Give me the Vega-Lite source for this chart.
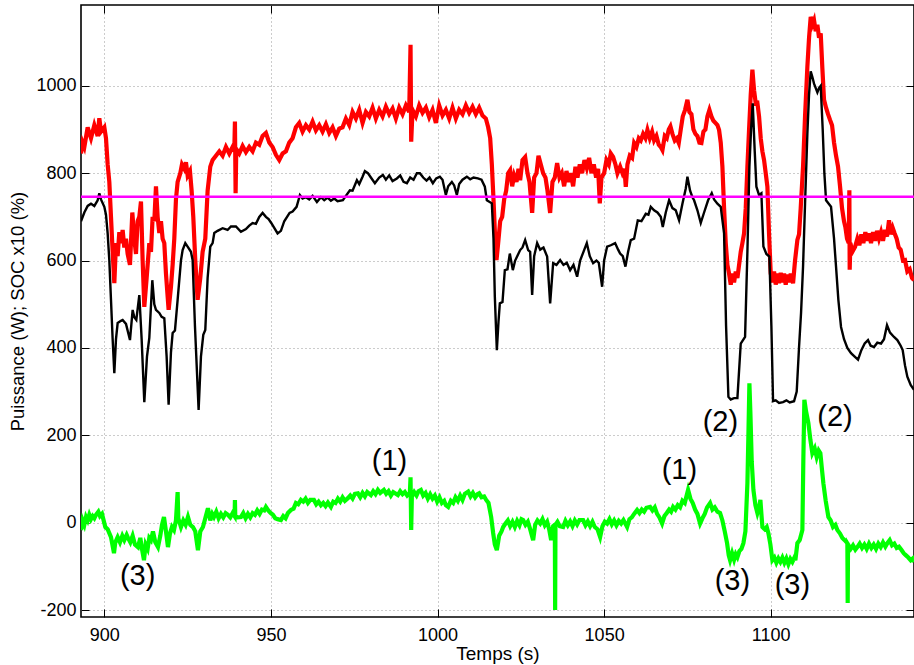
{
"$schema":"https://vega.github.io/schema/vega-lite/v6.json",
"width":833,"height":612,"autosize":"none",
"padding":{"left":81,"top":5,"right":0,"bottom":48},
"background":"white",
"config":{"view":{"stroke":"black","strokeWidth":1.6},"font":"Liberation Sans"},
"datasets":{
"red":[
{"t":893,"v":845},{"t":893.5,"v":870},{"t":894,"v":860},{"t":895,"v":905},{"t":896,"v":880},{"t":897,"v":910},{"t":898,"v":885},{"t":898.5,"v":926},{"t":899,"v":895},{"t":900,"v":905},{"t":900.5,"v":880},{"t":901,"v":820},{"t":901.5,"v":780},{"t":902,"v":700},{"t":902.5,"v":620},{"t":903,"v":548},{"t":903.5,"v":640},{"t":904,"v":610},{"t":904.5,"v":665},{"t":905,"v":640},{"t":905.5,"v":670},{"t":906,"v":630},{"t":906.5,"v":650},{"t":907,"v":615},{"t":907.7,"v":590},{"t":908.4,"v":710},{"t":909,"v":650},{"t":909.5,"v":615},{"t":910,"v":690},{"t":910.5,"v":700},{"t":911,"v":735},{"t":911.5,"v":600},{"t":912,"v":494},{"t":912.7,"v":560},{"t":913.5,"v":640},{"t":914,"v":620},{"t":914.5,"v":700},{"t":915,"v":690},{"t":915.5,"v":770},{"t":916,"v":700},{"t":916.5,"v":663},{"t":917,"v":690},{"t":917.5,"v":650},{"t":918,"v":640},{"t":918.5,"v":570},{"t":919.3,"v":487},{"t":920,"v":540},{"t":920.5,"v":590},{"t":921,"v":650},{"t":921.5,"v":740},{"t":922,"v":780},{"t":922.8,"v":800},{"t":923.3,"v":820},{"t":924,"v":810},{"t":924.5,"v":825},{"t":925,"v":795},{"t":925.7,"v":805},{"t":926.2,"v":760},{"t":926.7,"v":700},{"t":927.3,"v":600},{"t":928,"v":510},{"t":928.8,"v":560},{"t":929.5,"v":620},{"t":930.3,"v":650},{"t":931,"v":760},{"t":931.8,"v":815},{"t":932.5,"v":830},{"t":933.5,"v":840},{"t":934.5,"v":850},{"t":935.5,"v":840},{"t":936.5,"v":860},{"t":937.5,"v":845},{"t":938.5,"v":860},{"t":939,"v":850},{"t":939.2,"v":918},{"t":939.4,"v":754},{"t":939.6,"v":855},{"t":940.5,"v":845},{"t":941.5,"v":862},{"t":942.5,"v":848},{"t":943.5,"v":860},{"t":944.5,"v":850},{"t":945.5,"v":870},{"t":946.5,"v":865},{"t":947.5,"v":885},{"t":948.5,"v":892},{"t":949.5,"v":870},{"t":950.5,"v":860},{"t":951.5,"v":842},{"t":952.5,"v":830},{"t":953.5,"v":845},{"t":954.5,"v":850},{"t":955.5,"v":870},{"t":956.5,"v":880},{"t":957.5,"v":905},{"t":958.5,"v":915},{"t":959.5,"v":895},{"t":960.5,"v":910},{"t":961.5,"v":900},{"t":962.5,"v":918},{"t":963.5,"v":898},{"t":964.5,"v":910},{"t":965.5,"v":895},{"t":966.5,"v":912},{"t":967.5,"v":892},{"t":968.5,"v":905},{"t":969.5,"v":885},{"t":970.5,"v":902},{"t":971.5,"v":905},{"t":972.5,"v":925},{"t":973.5,"v":910},{"t":974.5,"v":940},{"t":975.5,"v":925},{"t":976.5,"v":945},{"t":977.5,"v":915},{"t":978.5,"v":940},{"t":979.5,"v":930},{"t":980.5,"v":950},{"t":981.5,"v":925},{"t":982.5,"v":945},{"t":983.5,"v":930},{"t":984.5,"v":952},{"t":985.5,"v":935},{"t":986.5,"v":948},{"t":987.5,"v":925},{"t":988.5,"v":950},{"t":989.5,"v":935},{"t":990.5,"v":955},{"t":991.5,"v":940},{"t":991.9,"v":1094},{"t":992.1,"v":872},{"t":992.5,"v":945},{"t":993.5,"v":930},{"t":994.5,"v":955},{"t":995.5,"v":938},{"t":996.5,"v":950},{"t":997.5,"v":928},{"t":998.5,"v":945},{"t":999.5,"v":915},{"t":1000.5,"v":955},{"t":1001.5,"v":932},{"t":1002.5,"v":945},{"t":1003.5,"v":925},{"t":1004.5,"v":950},{"t":1005.5,"v":925},{"t":1006.5,"v":945},{"t":1007.5,"v":935},{"t":1008.5,"v":955},{"t":1009.5,"v":938},{"t":1010.5,"v":952},{"t":1011.5,"v":935},{"t":1012.5,"v":950},{"t":1013.5,"v":932},{"t":1014.5,"v":925},{"t":1015.2,"v":905},{"t":1015.8,"v":880},{"t":1016.3,"v":820},{"t":1016.8,"v":740},{"t":1017.3,"v":650},{"t":1017.7,"v":601},{"t":1018.2,"v":640},{"t":1018.8,"v":690},{"t":1019.4,"v":700},{"t":1020,"v":740},{"t":1020.6,"v":760},{"t":1021.2,"v":800},{"t":1021.8,"v":807},{"t":1022.4,"v":770},{"t":1023,"v":795},{"t":1023.7,"v":780},{"t":1024.3,"v":810},{"t":1024.8,"v":784},{"t":1025.5,"v":830},{"t":1026.3,"v":837},{"t":1027,"v":800},{"t":1027.6,"v":780},{"t":1028.4,"v":709},{"t":1029,"v":790},{"t":1029.7,"v":800},{"t":1030.3,"v":840},{"t":1031,"v":820},{"t":1031.7,"v":800},{"t":1032.4,"v":790},{"t":1033,"v":760},{"t":1033.8,"v":709},{"t":1034.5,"v":780},{"t":1035.2,"v":790},{"t":1035.9,"v":823},{"t":1036.6,"v":790},{"t":1037.3,"v":800},{"t":1038,"v":770},{"t":1038.7,"v":805},{"t":1039.4,"v":780},{"t":1040,"v":800},{"t":1040.7,"v":770},{"t":1041.4,"v":815},{"t":1042,"v":790},{"t":1042.7,"v":820},{"t":1043.4,"v":800},{"t":1044.1,"v":830},{"t":1044.8,"v":812},{"t":1045.5,"v":835},{"t":1046.2,"v":800},{"t":1046.9,"v":820},{"t":1047.6,"v":790},{"t":1048.2,"v":810},{"t":1048.7,"v":731},{"t":1049.2,"v":790},{"t":1050,"v":800},{"t":1050.7,"v":830},{"t":1051.4,"v":820},{"t":1052,"v":845},{"t":1052.7,"v":837},{"t":1053.4,"v":820},{"t":1054,"v":800},{"t":1054.8,"v":815},{"t":1055.5,"v":800},{"t":1056.1,"v":810},{"t":1056.5,"v":769},{"t":1057,"v":820},{"t":1057.7,"v":840},{"t":1058.4,"v":835},{"t":1059,"v":869},{"t":1059.7,"v":860},{"t":1060.4,"v":880},{"t":1061,"v":875},{"t":1061.7,"v":890},{"t":1062.4,"v":880},{"t":1063,"v":899},{"t":1063.7,"v":880},{"t":1064.4,"v":895},{"t":1065,"v":875},{"t":1065.7,"v":885},{"t":1066.4,"v":865},{"t":1067,"v":860},{"t":1067.5,"v":853},{"t":1068.2,"v":885},{"t":1068.8,"v":880},{"t":1069.4,"v":900},{"t":1069.9,"v":907},{"t":1070.5,"v":890},{"t":1071.2,"v":875},{"t":1071.8,"v":880},{"t":1072.4,"v":869},{"t":1073,"v":900},{"t":1073.6,"v":930},{"t":1074.3,"v":945},{"t":1075,"v":968},{"t":1075.6,"v":940},{"t":1076.2,"v":935},{"t":1076.8,"v":900},{"t":1077.4,"v":890},{"t":1078,"v":885},{"t":1078.6,"v":870},{"t":1079.2,"v":869},{"t":1079.8,"v":895},{"t":1080.4,"v":900},{"t":1081,"v":930},{"t":1081.6,"v":945},{"t":1082.2,"v":930},{"t":1082.8,"v":920},{"t":1083.4,"v":915},{"t":1084,"v":910},{"t":1084.5,"v":899},{"t":1085,"v":870},{"t":1085.5,"v":815},{"t":1086,"v":720},{"t":1086.5,"v":640},{"t":1087,"v":590},{"t":1087.5,"v":570},{"t":1088,"v":545},{"t":1088.5,"v":570},{"t":1089,"v":550},{"t":1089.5,"v":575},{"t":1090,"v":560},{"t":1090.5,"v":590},{"t":1091,"v":620},{"t":1091.5,"v":640},{"t":1092,"v":662},{"t":1092.5,"v":720},{"t":1093,"v":815},{"t":1093.5,"v":900},{"t":1094,"v":980},{"t":1094.5,"v":1037},{"t":1095,"v":990},{"t":1095.5,"v":960},{"t":1096,"v":961},{"t":1096.5,"v":930},{"t":1097,"v":880},{"t":1097.5,"v":850},{"t":1098,"v":830},{"t":1098.5,"v":800},{"t":1099,"v":769},{"t":1099.5,"v":660},{"t":1100,"v":571},{"t":1100.5,"v":550},{"t":1101,"v":575},{"t":1101.5,"v":545},{"t":1102,"v":570},{"t":1102.5,"v":548},{"t":1103,"v":572},{"t":1103.5,"v":550},{"t":1104,"v":570},{"t":1104.5,"v":545},{"t":1105,"v":568},{"t":1105.5,"v":550},{"t":1106,"v":570},{"t":1106.7,"v":548},{"t":1107.3,"v":600},{"t":1108,"v":647},{"t":1108.5,"v":660},{"t":1109,"v":720},{"t":1109.7,"v":815},{"t":1110.3,"v":930},{"t":1111,"v":1044},{"t":1111.5,"v":1110},{"t":1112,"v":1158},{"t":1112.5,"v":1140},{"t":1113,"v":1150},{"t":1113.5,"v":1125},{"t":1114,"v":1140},{"t":1114.5,"v":1110},{"t":1115,"v":1120},{"t":1115.5,"v":1040},{"t":1116,"v":968},{"t":1116.6,"v":950},{"t":1117.2,"v":935},{"t":1117.8,"v":922},{"t":1118.4,"v":910},{"t":1119,"v":870},{"t":1119.6,"v":840},{"t":1120.2,"v":815},{"t":1120.8,"v":770},{"t":1121.4,"v":720},{"t":1122,"v":690},{"t":1122.4,"v":677},{"t":1122.9,"v":650},{"t":1123.4,"v":640},{"t":1123.6,"v":761},{"t":1123.7,"v":579},{"t":1123.9,"v":640},{"t":1124.5,"v":620},{"t":1125.3,"v":631},{"t":1126,"v":650},{"t":1126.6,"v":635},{"t":1127.2,"v":660},{"t":1127.8,"v":640},{"t":1128.4,"v":665},{"t":1129,"v":645},{"t":1129.5,"v":662},{"t":1130.1,"v":640},{"t":1130.7,"v":665},{"t":1131.3,"v":645},{"t":1131.9,"v":668},{"t":1132.5,"v":650},{"t":1133.1,"v":665},{"t":1133.7,"v":645},{"t":1134.3,"v":670},{"t":1134.9,"v":655},{"t":1135.5,"v":692},{"t":1136,"v":660},{"t":1136.6,"v":675},{"t":1137.2,"v":662},{"t":1137.8,"v":650},{"t":1138.4,"v":630},{"t":1139,"v":625},{"t":1139.7,"v":600},{"t":1140.3,"v":601},{"t":1141,"v":575},{"t":1141.7,"v":580},{"t":1142.4,"v":560},{"t":1143,"v":555}
],
"black":[
{"t":893,"v":690},{"t":894,"v":710},{"t":895,"v":725},{"t":896,"v":730},{"t":897,"v":725},{"t":898,"v":738},{"t":898.5,"v":754},{"t":899,"v":740},{"t":900,"v":723},{"t":900.5,"v":705},{"t":901,"v":662},{"t":901.5,"v":600},{"t":902,"v":510},{"t":902.5,"v":420},{"t":903,"v":342},{"t":903.5,"v":420},{"t":904,"v":457},{"t":905,"v":462},{"t":905.5,"v":464},{"t":906.5,"v":455},{"t":907.7,"v":418},{"t":908.5,"v":487},{"t":909,"v":470},{"t":909.6,"v":464},{"t":910.5,"v":521},{"t":911.2,"v":420},{"t":912,"v":276},{"t":912.8,"v":380},{"t":913.5,"v":423},{"t":914.4,"v":555},{"t":915,"v":500},{"t":915.5,"v":487},{"t":916.5,"v":480},{"t":917.2,"v":471},{"t":918,"v":468},{"t":918.7,"v":380},{"t":919.3,"v":270},{"t":920,"v":390},{"t":920.5,"v":434},{"t":921.2,"v":440},{"t":922,"v":510},{"t":923,"v":600},{"t":923.5,"v":624},{"t":924.3,"v":640},{"t":925,"v":632},{"t":926,"v":620},{"t":926.5,"v":601},{"t":927.2,"v":450},{"t":928.3,"v":258},{"t":929,"v":380},{"t":929.7,"v":430},{"t":930.3,"v":441},{"t":931,"v":560},{"t":931.8,"v":632},{"t":932.5,"v":640},{"t":933,"v":663},{"t":934,"v":668},{"t":935.5,"v":674},{"t":937,"v":670},{"t":938,"v":678},{"t":939.5,"v":678},{"t":941,"v":666},{"t":942.5,"v":672},{"t":943.5,"v":680},{"t":944.5,"v":686},{"t":945.5,"v":684},{"t":946.5,"v":700},{"t":947.5,"v":709},{"t":948.5,"v":700},{"t":949.3,"v":695},{"t":950.1,"v":686},{"t":951,"v":675},{"t":952,"v":662},{"t":953,"v":668},{"t":954,"v":690},{"t":955.6,"v":709},{"t":956.5,"v":712},{"t":957.7,"v":723},{"t":958.7,"v":750},{"t":959.5,"v":742},{"t":960.5,"v":745},{"t":961.5,"v":740},{"t":962.5,"v":748},{"t":963.8,"v":734},{"t":965,"v":745},{"t":966,"v":738},{"t":967,"v":744},{"t":968,"v":737},{"t":969,"v":742},{"t":970,"v":736},{"t":971.6,"v":738},{"t":972.5,"v":748},{"t":973.7,"v":761},{"t":974.5,"v":760},{"t":975.8,"v":784},{"t":976.5,"v":775},{"t":977.5,"v":792},{"t":978.2,"v":805},{"t":979.1,"v":800},{"t":980,"v":790},{"t":981.2,"v":777},{"t":982.5,"v":790},{"t":983.6,"v":796},{"t":984.5,"v":785},{"t":985.5,"v":795},{"t":986.5,"v":782},{"t":987.8,"v":788},{"t":988.8,"v":795},{"t":989.8,"v":780},{"t":990.8,"v":777},{"t":991.8,"v":790},{"t":992.8,"v":785},{"t":993.8,"v":800},{"t":994.7,"v":800},{"t":995.7,"v":790},{"t":996.7,"v":783},{"t":997.6,"v":790},{"t":998.6,"v":777},{"t":999.6,"v":788},{"t":1000.7,"v":792},{"t":1001.5,"v":785},{"t":1002.5,"v":750},{"t":1003.2,"v":770},{"t":1004.3,"v":780},{"t":1005,"v":772},{"t":1005.8,"v":750},{"t":1006.5,"v":775},{"t":1007.5,"v":785},{"t":1008.8,"v":792},{"t":1009.8,"v":786},{"t":1010.8,"v":790},{"t":1012.1,"v":788},{"t":1013.2,"v":785},{"t":1014.2,"v":769},{"t":1014.8,"v":738},{"t":1016.3,"v":731},{"t":1016.8,"v":650},{"t":1017.2,"v":517},{"t":1017.8,"v":395},{"t":1018.3,"v":460},{"t":1018.7,"v":502},{"t":1019.5,"v":505},{"t":1020.2,"v":578},{"t":1021,"v":580},{"t":1021.7,"v":616},{"t":1022.6,"v":578},{"t":1023.3,"v":600},{"t":1024.8,"v":624},{"t":1025.5,"v":630},{"t":1026.3,"v":647},{"t":1027.2,"v":624},{"t":1027.8,"v":620},{"t":1028.4,"v":521},{"t":1029,"v":610},{"t":1029.9,"v":640},{"t":1030.8,"v":625},{"t":1031.8,"v":630},{"t":1032.9,"v":609},{"t":1033.8,"v":502},{"t":1034.7,"v":594},{"t":1035.7,"v":590},{"t":1036.8,"v":601},{"t":1037.8,"v":590},{"t":1038.8,"v":595},{"t":1039.8,"v":578},{"t":1040.8,"v":590},{"t":1041.9,"v":563},{"t":1042.8,"v":600},{"t":1043.8,"v":620},{"t":1044.8,"v":640},{"t":1045.7,"v":610},{"t":1046.7,"v":594},{"t":1047.7,"v":600},{"t":1048.4,"v":595},{"t":1049.4,"v":540},{"t":1050,"v":600},{"t":1050.9,"v":632},{"t":1052,"v":635},{"t":1053.3,"v":640},{"t":1054.2,"v":625},{"t":1054.8,"v":616},{"t":1055.6,"v":610},{"t":1056.4,"v":586},{"t":1057.2,"v":620},{"t":1058,"v":647},{"t":1059,"v":650},{"t":1060.1,"v":692},{"t":1061.2,"v":690},{"t":1062.5,"v":707},{"t":1063.3,"v":705},{"t":1064,"v":723},{"t":1065,"v":715},{"t":1066,"v":710},{"t":1067,"v":700},{"t":1067.6,"v":677},{"t":1068.5,"v":710},{"t":1069.5,"v":738},{"t":1070.5,"v":720},{"t":1071.5,"v":715},{"t":1072.5,"v":692},{"t":1073.5,"v":730},{"t":1074.5,"v":765},{"t":1075,"v":792},{"t":1075.8,"v":760},{"t":1076.5,"v":745},{"t":1077,"v":738},{"t":1078,"v":715},{"t":1079,"v":686},{"t":1080,"v":710},{"t":1081.2,"v":738},{"t":1082.3,"v":754},{"t":1083,"v":740},{"t":1084,"v":730},{"t":1085,"v":723},{"t":1086,"v":662},{"t":1086.6,"v":450},{"t":1087.3,"v":288},{"t":1088,"v":282},{"t":1089,"v":285},{"t":1090,"v":285},{"t":1091,"v":410},{"t":1092.3,"v":425},{"t":1093,"v":620},{"t":1093.6,"v":815},{"t":1094.1,"v":900},{"t":1094.6,"v":960},{"t":1095.2,"v":850},{"t":1095.7,"v":769},{"t":1096.5,"v":750},{"t":1097.2,"v":754},{"t":1097.8,"v":632},{"t":1098.7,"v":615},{"t":1099.6,"v":609},{"t":1100.2,"v":450},{"t":1100.7,"v":278},{"t":1101.5,"v":280},{"t":1102.5,"v":274},{"t":1103.7,"v":276},{"t":1104.7,"v":280},{"t":1105.7,"v":275},{"t":1107,"v":278},{"t":1107.8,"v":300},{"t":1108.5,"v":402},{"t":1109.1,"v":480},{"t":1109.7,"v":586},{"t":1110.3,"v":730},{"t":1111,"v":891},{"t":1111.5,"v":980},{"t":1112,"v":1033},{"t":1112.5,"v":1020},{"t":1113,"v":1005},{"t":1114,"v":985},{"t":1114.5,"v":995},{"t":1115,"v":1000},{"t":1115.6,"v":900},{"t":1116.1,"v":800},{"t":1116.6,"v":738},{"t":1118.1,"v":723},{"t":1119,"v":650},{"t":1119.6,"v":586},{"t":1120.3,"v":510},{"t":1121.1,"v":448},{"t":1122,"v":420},{"t":1123,"v":400},{"t":1124.1,"v":388},{"t":1125.2,"v":380},{"t":1126.2,"v":373},{"t":1127.2,"v":395},{"t":1128.2,"v":410},{"t":1129.2,"v":418},{"t":1130,"v":405},{"t":1131,"v":402},{"t":1132,"v":412},{"t":1133.1,"v":410},{"t":1134,"v":420},{"t":1134.9,"v":452},{"t":1135.8,"v":435},{"t":1137,"v":425},{"t":1138,"v":418},{"t":1139,"v":405},{"t":1139.6,"v":395},{"t":1140.3,"v":360},{"t":1141,"v":334},{"t":1142,"v":315},{"t":1143,"v":304}
],
"green":[
{"t":893,"v":-17},{"t":893.5,"v":5},{"t":894,"v":-5},{"t":894.5,"v":13},{"t":895,"v":5},{"t":895.5,"v":18},{"t":896,"v":8},{"t":896.5,"v":15},{"t":897,"v":10},{"t":897.5,"v":18},{"t":898.2,"v":25},{"t":898.7,"v":15},{"t":899.3,"v":20},{"t":900.3,"v":-10},{"t":901,"v":-15},{"t":902,"v":-33},{"t":902.9,"v":-70},{"t":903.3,"v":-45},{"t":904,"v":-33},{"t":904.7,"v":-45},{"t":905.4,"v":-30},{"t":906,"v":-40},{"t":906.7,"v":-28},{"t":907.1,"v":-35},{"t":907.8,"v":-45},{"t":908.5,"v":-30},{"t":909.2,"v":-50},{"t":910.1,"v":-56},{"t":910.8,"v":-35},{"t":911.3,"v":-60},{"t":911.9,"v":-86},{"t":912.4,"v":-50},{"t":913,"v":-60},{"t":913.5,"v":-35},{"t":914,"v":-40},{"t":914.6,"v":-20},{"t":915.3,"v":-45},{"t":916.1,"v":-56},{"t":916.8,"v":-30},{"t":917.3,"v":-5},{"t":917.9,"v":13},{"t":918.5,"v":-20},{"t":919.1,"v":-56},{"t":919.7,"v":-25},{"t":920.3,"v":-10},{"t":920.9,"v":-17},{"t":921.5,"v":5},{"t":922,"v":70},{"t":922.2,"v":10},{"t":923,"v":-10},{"t":923.7,"v":5},{"t":924.4,"v":-5},{"t":925.1,"v":13},{"t":925.8,"v":-5},{"t":926.6,"v":-10},{"t":927.3,"v":-20},{"t":928.1,"v":-63},{"t":928.8,"v":-20},{"t":929.6,"v":-10},{"t":930.3,"v":10},{"t":931.1,"v":33},{"t":931.8,"v":5},{"t":932.4,"v":20},{"t":932.9,"v":13},{"t":933.6,"v":25},{"t":934.3,"v":10},{"t":935,"v":20},{"t":935.7,"v":12},{"t":936.4,"v":22},{"t":937.1,"v":18},{"t":937.8,"v":12},{"t":938.5,"v":22},{"t":939.1,"v":15},{"t":939.2,"v":52},{"t":939.3,"v":15},{"t":940,"v":12},{"t":941,"v":13},{"t":941.7,"v":22},{"t":942.4,"v":10},{"t":943.1,"v":20},{"t":943.8,"v":12},{"t":944.5,"v":22},{"t":945.2,"v":18},{"t":945.9,"v":28},{"t":946.6,"v":20},{"t":947.3,"v":30},{"t":948,"v":28},{"t":948.5,"v":36},{"t":949.2,"v":28},{"t":949.9,"v":22},{"t":950.6,"v":18},{"t":951.3,"v":10},{"t":952,"v":8},{"t":953,"v":6},{"t":953.7,"v":15},{"t":954.4,"v":10},{"t":955.1,"v":22},{"t":956,"v":29},{"t":956.8,"v":32},{"t":957.5,"v":45},{"t":958.2,"v":42},{"t":959,"v":52},{"t":959.7,"v":48},{"t":960.4,"v":55},{"t":961.1,"v":45},{"t":961.8,"v":52},{"t":962.9,"v":52},{"t":963.6,"v":42},{"t":964.3,"v":48},{"t":965,"v":40},{"t":965.7,"v":45},{"t":966.4,"v":38},{"t":967.1,"v":46},{"t":968,"v":36},{"t":968.7,"v":48},{"t":969.4,"v":45},{"t":970.1,"v":55},{"t":970.8,"v":48},{"t":971.5,"v":58},{"t":972.2,"v":50},{"t":973.1,"v":56},{"t":973.8,"v":62},{"t":974.5,"v":55},{"t":975.2,"v":66},{"t":976.1,"v":67},{"t":976.8,"v":58},{"t":977.5,"v":68},{"t":978.2,"v":60},{"t":978.9,"v":70},{"t":980,"v":63},{"t":980.7,"v":72},{"t":981.4,"v":65},{"t":982.1,"v":75},{"t":982.8,"v":68},{"t":983.9,"v":75},{"t":984.6,"v":66},{"t":985.3,"v":72},{"t":986,"v":62},{"t":986.7,"v":70},{"t":988.1,"v":63},{"t":988.8,"v":72},{"t":989.5,"v":65},{"t":990.2,"v":70},{"t":990.9,"v":62},{"t":991.7,"v":68},{"t":991.9,"v":104},{"t":992.1,"v":-17},{"t":992.3,"v":60},{"t":993,"v":70},{"t":993.7,"v":62},{"t":994.3,"v":72},{"t":995,"v":75},{"t":995.7,"v":62},{"t":996.4,"v":68},{"t":997.1,"v":55},{"t":997.8,"v":65},{"t":998.5,"v":55},{"t":999.2,"v":62},{"t":999.9,"v":48},{"t":1000.6,"v":58},{"t":1001.3,"v":45},{"t":1002,"v":50},{"t":1002.5,"v":40},{"t":1003.2,"v":36},{"t":1004,"v":50},{"t":1004.7,"v":45},{"t":1005.4,"v":58},{"t":1006.1,"v":50},{"t":1006.8,"v":62},{"t":1007.5,"v":52},{"t":1008.2,"v":66},{"t":1009.2,"v":71},{"t":1009.9,"v":60},{"t":1010.6,"v":68},{"t":1011.3,"v":58},{"t":1012,"v":65},{"t":1012.5,"v":67},{"t":1013.2,"v":58},{"t":1014,"v":60},{"t":1014.6,"v":52},{"t":1015.3,"v":45},{"t":1016.1,"v":13},{"t":1016.7,"v":-24},{"t":1017.2,"v":-50},{"t":1017.8,"v":-63},{"t":1018.5,"v":-30},{"t":1019.2,"v":-20},{"t":1019.7,"v":-10},{"t":1020.4,"v":-2},{"t":1021.1,"v":5},{"t":1021.8,"v":-8},{"t":1022.5,"v":2},{"t":1023.2,"v":-10},{"t":1023.9,"v":4},{"t":1024.6,"v":-6},{"t":1025.2,"v":8},{"t":1025.7,"v":6},{"t":1026.4,"v":-5},{"t":1027.1,"v":2},{"t":1027.8,"v":-15},{"t":1028.7,"v":-40},{"t":1029.3,"v":-5},{"t":1030,"v":5},{"t":1030.8,"v":-2},{"t":1031.5,"v":8},{"t":1032.2,"v":-6},{"t":1032.9,"v":2},{"t":1033.5,"v":-15},{"t":1034.1,"v":-40},{"t":1034.7,"v":-8},{"t":1035.2,"v":-5},{"t":1035.3,"v":-200},{"t":1035.4,"v":-5},{"t":1036,"v":2},{"t":1036.7,"v":-8},{"t":1037.7,"v":-10},{"t":1038.4,"v":4},{"t":1039.1,"v":-6},{"t":1039.8,"v":3},{"t":1040.5,"v":-8},{"t":1041.2,"v":5},{"t":1041.9,"v":-4},{"t":1042.6,"v":6},{"t":1043.7,"v":6},{"t":1044.4,"v":-6},{"t":1045.1,"v":3},{"t":1045.8,"v":-8},{"t":1046.5,"v":2},{"t":1047.2,"v":-10},{"t":1048,"v":-15},{"t":1048.8,"v":-33},{"t":1049.5,"v":-8},{"t":1050.2,"v":2},{"t":1050.9,"v":-2},{"t":1051.6,"v":8},{"t":1052.3,"v":-4},{"t":1053,"v":5},{"t":1053.7,"v":-6},{"t":1054.4,"v":4},{"t":1055.1,"v":-2},{"t":1055.8,"v":6},{"t":1056.9,"v":-10},{"t":1057.6,"v":8},{"t":1058.3,"v":12},{"t":1059,"v":20},{"t":1059.9,"v":29},{"t":1060.6,"v":22},{"t":1061.3,"v":30},{"t":1062,"v":25},{"t":1062.7,"v":34},{"t":1063.8,"v":36},{"t":1064.5,"v":28},{"t":1065.2,"v":35},{"t":1065.9,"v":20},{"t":1066.6,"v":12},{"t":1067.4,"v":-2},{"t":1068.1,"v":15},{"t":1068.8,"v":22},{"t":1069.5,"v":30},{"t":1070.1,"v":25},{"t":1070.7,"v":36},{"t":1071.4,"v":30},{"t":1072.1,"v":40},{"t":1072.8,"v":35},{"t":1073.5,"v":50},{"t":1074.2,"v":45},{"t":1075.2,"v":75},{"t":1075.9,"v":55},{"t":1076.6,"v":45},{"t":1077.3,"v":30},{"t":1078,"v":20},{"t":1078.8,"v":-2},{"t":1079.5,"v":10},{"t":1080.2,"v":20},{"t":1080.9,"v":35},{"t":1081.8,"v":45},{"t":1082.5,"v":30},{"t":1083.2,"v":35},{"t":1084,"v":25},{"t":1084.8,"v":22},{"t":1085.5,"v":5},{"t":1086.2,"v":-20},{"t":1086.9,"v":-47},{"t":1087.4,"v":-75},{"t":1087.8,"v":-86},{"t":1088.4,"v":-70},{"t":1089,"v":-85},{"t":1089.5,"v":-72},{"t":1090,"v":-79},{"t":1090.6,"v":-65},{"t":1091.2,"v":-60},{"t":1091.8,"v":-47},{"t":1092.4,"v":-20},{"t":1093,"v":90},{"t":1093.3,"v":200},{"t":1093.6,"v":319},{"t":1093.9,"v":250},{"t":1094.3,"v":140},{"t":1094.8,"v":75},{"t":1095.4,"v":40},{"t":1096,"v":22},{"t":1096.5,"v":35},{"t":1096.9,"v":52},{"t":1097.2,"v":20},{"t":1097.5,"v":-10},{"t":1098.2,"v":-15},{"t":1098.8,"v":-10},{"t":1099.3,"v":-24},{"t":1099.9,"v":-50},{"t":1100.5,"v":-86},{"t":1101.1,"v":-80},{"t":1101.7,"v":-92},{"t":1102.3,"v":-82},{"t":1102.9,"v":-90},{"t":1103.5,"v":-80},{"t":1104.1,"v":-92},{"t":1104.7,"v":-82},{"t":1105.3,"v":-95},{"t":1105.9,"v":-83},{"t":1106.5,"v":-90},{"t":1107.1,"v":-80},{"t":1107.4,"v":-86},{"t":1108,"v":-47},{"t":1108.7,"v":-40},{"t":1109.5,"v":-17},{"t":1109.8,"v":150},{"t":1110.1,"v":281},{"t":1110.6,"v":255},{"t":1111.3,"v":228},{"t":1111.9,"v":190},{"t":1112.5,"v":159},{"t":1113.2,"v":170},{"t":1113.8,"v":150},{"t":1114.4,"v":165},{"t":1114.9,"v":159},{"t":1115.4,"v":120},{"t":1115.8,"v":90},{"t":1116.5,"v":50},{"t":1117.3,"v":13},{"t":1118,"v":5},{"t":1118.7,"v":-10},{"t":1119.4,"v":-5},{"t":1120,"v":-17},{"t":1120.8,"v":-25},{"t":1121.5,"v":-35},{"t":1122.2,"v":-40},{"t":1123,"v":-47},{"t":1123.1,"v":-184},{"t":1123.2,"v":-50},{"t":1124,"v":-60},{"t":1124.7,"v":-52},{"t":1125.4,"v":-62},{"t":1126,"v":-56},{"t":1126.7,"v":-48},{"t":1127.4,"v":-58},{"t":1128.1,"v":-50},{"t":1128.8,"v":-60},{"t":1129.5,"v":-48},{"t":1130.2,"v":-58},{"t":1130.9,"v":-50},{"t":1131.6,"v":-60},{"t":1132.3,"v":-48},{"t":1133,"v":-56},{"t":1133.7,"v":-45},{"t":1134.4,"v":-55},{"t":1135,"v":-47},{"t":1135.7,"v":-40},{"t":1136.4,"v":-52},{"t":1137.1,"v":-48},{"t":1137.8,"v":-58},{"t":1138.5,"v":-55},{"t":1139.2,"v":-62},{"t":1139.9,"v":-70},{"t":1140.6,"v":-75},{"t":1141.3,"v":-80},{"t":1142,"v":-86},{"t":1142.6,"v":-82},{"t":1143,"v":-90}
],
"mag":[{"t":893,"v":746},{"t":1143,"v":746}],
"ann":[
{"t":910,"v":-122,"label":"(3)"},
{"t":1088.5,"v":-133,"label":"(3)"},
{"t":1106.5,"v":-142,"label":"(3)"},
{"t":1084.9,"v":230,"label":"(2)"},
{"t":1119.3,"v":242,"label":"(2)"},
{"t":1072.6,"v":121,"label":"(1)"},
{"t":985.6,"v":140,"label":"(1)"}
]
},
"layer":[
{"data":{"name":"red"},"mark":{"type":"line","color":"#ff0000","strokeWidth":4.2,"clip":true},
 "encoding":{
  "x":{"field":"t","type":"quantitative","scale":{"domain":[893,1143],"nice":false,"zero":false},
   "axis":{"orient":"bottom","title":"Temps (s)","values":[900,950,1000,1050,1100],"labelExpr":"datum.value + ''","grid":true,"gridDash":[1,3],"gridColor":"#999","gridOpacity":1,"tickSize":-8,"tickWidth":1,"tickColor":"black","domain":false,"labelFontSize":18,"labelColor":"black","labelPadding":17,"titleFontSize":19,"titleFontWeight":"normal","titleColor":"black","titlePadding":0,"labelFont":"Liberation Sans","titleFont":"Liberation Sans"}},
  "y":{"field":"v","type":"quantitative","scale":{"domain":[-216,1185],"nice":false,"zero":false},
   "axis":{"orient":"left","title":"Puissance (W); SOC x10 (%)","values":[-200,0,200,400,600,800,1000],"labelExpr":"datum.value + ''","grid":true,"gridDash":[1,3],"gridColor":"#999","gridOpacity":1,"tickSize":-8,"tickWidth":1,"tickColor":"black","domain":false,"labelFontSize":18,"labelColor":"black","labelPadding":13,"titleFontSize":18.5,"titleFontWeight":"normal","titleColor":"black","titlePadding":8,"labelFont":"Liberation Sans","titleFont":"Liberation Sans"}}}},
{"data":{"name":"black"},"mark":{"type":"line","color":"#000000","strokeWidth":2.4,"clip":true},
 "encoding":{"x":{"field":"t","type":"quantitative","axis":null},"y":{"field":"v","type":"quantitative","axis":null}}},
{"data":{"name":"green"},"mark":{"type":"line","color":"#00ff00","strokeWidth":4.2,"clip":true},
 "encoding":{"x":{"field":"t","type":"quantitative","axis":null},"y":{"field":"v","type":"quantitative","axis":null}}},
{"data":{"name":"mag"},"mark":{"type":"line","color":"#ff00ff","strokeWidth":2.5,"clip":true},
 "encoding":{
  "x":{"field":"t","type":"quantitative","axis":{"orient":"top","values":[900,950,1000,1050,1100],"labels":false,"title":null,"grid":false,"domain":false,"tickSize":-8,"tickWidth":1,"tickColor":"black"}},
  "y":{"field":"v","type":"quantitative","axis":{"orient":"right","values":[-200,0,200,400,600,800,1000],"labels":false,"title":null,"grid":false,"domain":false,"tickSize":-8,"tickWidth":1,"tickColor":"black"}}}},
{"data":{"name":"ann"},"mark":{"type":"text","fontSize":29,"font":"Liberation Sans","color":"black","baseline":"middle","align":"center"},
 "encoding":{"x":{"field":"t","type":"quantitative","axis":null},"y":{"field":"v","type":"quantitative","axis":null},"text":{"field":"label"}}}
],
"resolve":{"axis":{"x":"independent","y":"independent"}}
}
